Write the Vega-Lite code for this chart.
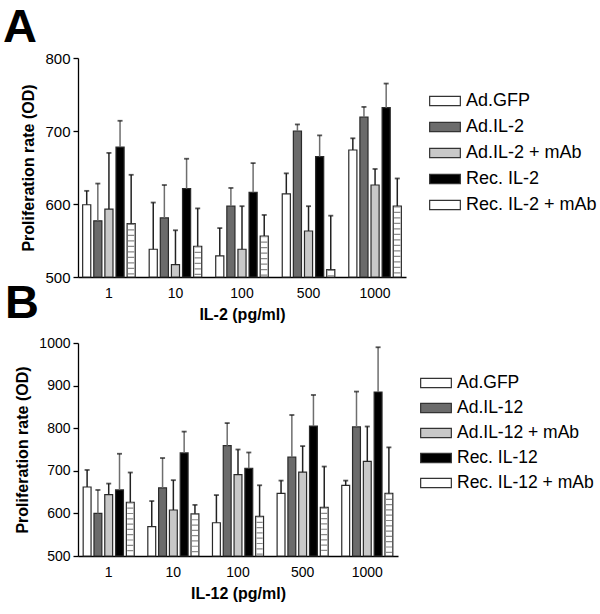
{
  "$schema": "https://vega.github.io/schema/vega-lite/v6.json",
  "padding": {"left": 3, "top": 4, "right": 0, "bottom": 5},
  "bounds": "flush",
  "spacing": 66,
  "datasets": {
    "A": [
      {"dose": "1", "series": "Ad.GFP", "value": 599, "upper": 618},
      {"dose": "1", "series": "Ad.IL-2", "value": 577, "upper": 628},
      {"dose": "1", "series": "Ad.IL-2 + mAb", "value": 593, "upper": 670},
      {"dose": "1", "series": "Rec. IL-2", "value": 678, "upper": 714},
      {"dose": "1", "series": "Rec. IL-2 + mAb", "value": 573, "upper": 640},
      {"dose": "10", "series": "Ad.GFP", "value": 538, "upper": 602},
      {"dose": "10", "series": "Ad.IL-2", "value": 581, "upper": 626},
      {"dose": "10", "series": "Ad.IL-2 + mAb", "value": 517, "upper": 564},
      {"dose": "10", "series": "Rec. IL-2", "value": 621, "upper": 662},
      {"dose": "10", "series": "Rec. IL-2 + mAb", "value": 542, "upper": 594},
      {"dose": "100", "series": "Ad.GFP", "value": 529, "upper": 567},
      {"dose": "100", "series": "Ad.IL-2", "value": 597, "upper": 622},
      {"dose": "100", "series": "Ad.IL-2 + mAb", "value": 538, "upper": 597},
      {"dose": "100", "series": "Rec. IL-2", "value": 616, "upper": 656},
      {"dose": "100", "series": "Rec. IL-2 + mAb", "value": 556, "upper": 585},
      {"dose": "500", "series": "Ad.GFP", "value": 614, "upper": 642},
      {"dose": "500", "series": "Ad.IL-2", "value": 700, "upper": 709},
      {"dose": "500", "series": "Ad.IL-2 + mAb", "value": 563, "upper": 597},
      {"dose": "500", "series": "Rec. IL-2", "value": 665, "upper": 694},
      {"dose": "500", "series": "Rec. IL-2 + mAb", "value": 510, "upper": 584},
      {"dose": "1000", "series": "Ad.GFP", "value": 674, "upper": 690},
      {"dose": "1000", "series": "Ad.IL-2", "value": 719, "upper": 733},
      {"dose": "1000", "series": "Ad.IL-2 + mAb", "value": 626, "upper": 648},
      {"dose": "1000", "series": "Rec. IL-2", "value": 732, "upper": 765},
      {"dose": "1000", "series": "Rec. IL-2 + mAb", "value": 597, "upper": 635}
    ],
    "B": [
      {"dose": "1", "series": "Ad.GFP", "value": 662, "upper": 702},
      {"dose": "1", "series": "Ad.IL-12", "value": 600, "upper": 655},
      {"dose": "1", "series": "Ad.IL-12 + mAb", "value": 644, "upper": 670},
      {"dose": "1", "series": "Rec. IL-12", "value": 655, "upper": 740},
      {"dose": "1", "series": "Rec. IL-12 + mAb", "value": 626, "upper": 696},
      {"dose": "10", "series": "Ad.GFP", "value": 569, "upper": 629},
      {"dose": "10", "series": "Ad.IL-12", "value": 660, "upper": 730},
      {"dose": "10", "series": "Ad.IL-12 + mAb", "value": 608, "upper": 678},
      {"dose": "10", "series": "Rec. IL-12", "value": 742, "upper": 792},
      {"dose": "10", "series": "Rec. IL-12 + mAb", "value": 599, "upper": 620},
      {"dose": "100", "series": "Ad.GFP", "value": 578, "upper": 643},
      {"dose": "100", "series": "Ad.IL-12", "value": 759, "upper": 812},
      {"dose": "100", "series": "Ad.IL-12 + mAb", "value": 691, "upper": 750},
      {"dose": "100", "series": "Rec. IL-12", "value": 706, "upper": 743},
      {"dose": "100", "series": "Rec. IL-12 + mAb", "value": 593, "upper": 666},
      {"dose": "500", "series": "Ad.GFP", "value": 647, "upper": 677},
      {"dose": "500", "series": "Ad.IL-12", "value": 732, "upper": 831},
      {"dose": "500", "series": "Ad.IL-12 + mAb", "value": 697, "upper": 758},
      {"dose": "500", "series": "Rec. IL-12", "value": 805, "upper": 878},
      {"dose": "500", "series": "Rec. IL-12 + mAb", "value": 614, "upper": 710},
      {"dose": "1000", "series": "Ad.GFP", "value": 666, "upper": 677},
      {"dose": "1000", "series": "Ad.IL-12", "value": 803, "upper": 886},
      {"dose": "1000", "series": "Ad.IL-12 + mAb", "value": 722, "upper": 804},
      {"dose": "1000", "series": "Rec. IL-12", "value": 885, "upper": 990},
      {"dose": "1000", "series": "Rec. IL-12 + mAb", "value": 647, "upper": 755}
    ]
  },
  "vconcat": [
    {
      "width": 328,
      "height": 219,
      "title": {"text": "A", "fontSize": 47, "font": "Liberation Sans", "fontWeight": "bold", "anchor": "start", "frame": "group", "dx": -75, "offset": -38, "baseline": "alphabetic", "color": "#000"},
      "data": {"name": "A"},
      "layer": [
        {
          "mark": {"type": "bar", "strokeWidth": 1.2, "stroke": "#2a2a2a"},
          "encoding": {
            "x": {"field": "dose", "type": "nominal", "scale": {"domain": ["1", "10", "100", "500", "1000"], "paddingInner": 0.21, "paddingOuter": 0.07}, "axis": {"labelAngle": 0}, "title": "IL-2 (pg/ml)"},
            "xOffset": {"field": "series", "type": "nominal", "scale": {"domain": ["Ad.GFP", "Ad.IL-2", "Ad.IL-2 + mAb", "Rec. IL-2", "Rec. IL-2 + mAb"], "paddingInner": 0.27, "paddingOuter": 0}},
            "y": {"field": "value", "type": "quantitative", "scale": {"domain": [500, 800], "zero": false, "nice": false}, "axis": {"values": [500, 600, 700, 800], "labelFontSize": 15, "format": "d"}, "title": "Proliferation rate (OD)"},
            "y2": {"datum": 500},
            "fill": {"field": "series", "type": "nominal", "scale": {"domain": ["Ad.GFP", "Ad.IL-2", "Ad.IL-2 + mAb", "Rec. IL-2", "Rec. IL-2 + mAb"], "range": ["#ffffff", "#6b6b6b", "#c8c8c8", "#000000", "#ffffff"]},
              "legend": {"orient": "none", "legendX": 357, "legendY": 33, "direction": "vertical", "title": null, "labelFontSize": 18, "labelFont": "Liberation Sans", "labelColor": "#000", "symbolType": "M-1.65,-0.5h3.3v1h-3.3z", "symbolSize": 346, "rowPadding": 7, "labelOffset": 11, "symbolStrokeColor": "#333333", "symbolStrokeWidth": 1.2, "symbolOpacity": 1}}
          }
        },
        {
          "transform": [{"filter": "datum.series === 'Rec. IL-2 + mAb'"}],
          "mark": {"type": "rule", "strokeWidth": 6.4, "strokeDash": [1.2, 4.3], "color": "#8a8a8a"},
          "encoding": {
            "x": {"field": "dose", "type": "nominal", "scale": {"domain": ["1", "10", "100", "500", "1000"]}},
            "xOffset": {"field": "series", "type": "nominal", "scale": {"domain": ["Ad.GFP", "Ad.IL-2", "Ad.IL-2 + mAb", "Rec. IL-2", "Rec. IL-2 + mAb"]}},
            "y": {"field": "value", "type": "quantitative"},
            "y2": {"datum": 500}
          }
        },
        {
          "mark": {"type": "rule", "strokeWidth": 1.5},
          "encoding": {
            "x": {"field": "dose", "type": "nominal", "scale": {"domain": ["1", "10", "100", "500", "1000"]}},
            "xOffset": {"field": "series", "type": "nominal", "scale": {"domain": ["Ad.GFP", "Ad.IL-2", "Ad.IL-2 + mAb", "Rec. IL-2", "Rec. IL-2 + mAb"]}},
            "y": {"field": "value", "type": "quantitative"},
            "y2": {"field": "upper"},
            "stroke": {"condition": {"test": "datum.series === 'Ad.IL-2' || datum.series === 'Rec. IL-2'", "value": "#6e6e6e"}, "value": "#222222"}
          }
        },
        {
          "mark": {"type": "tick", "thickness": 1.8, "size": 5, "color": "#111111"},
          "encoding": {
            "x": {"field": "dose", "type": "nominal", "scale": {"domain": ["1", "10", "100", "500", "1000"]}},
            "xOffset": {"field": "series", "type": "nominal", "scale": {"domain": ["Ad.GFP", "Ad.IL-2", "Ad.IL-2 + mAb", "Rec. IL-2", "Rec. IL-2 + mAb"]}},
            "y": {"field": "upper", "type": "quantitative"}
          }
        }
      ]
    },
    {
      "width": 320,
      "height": 213,
      "title": {"text": "B", "fontSize": 47, "font": "Liberation Sans", "fontWeight": "bold", "anchor": "start", "frame": "group", "dx": -73, "offset": -29, "baseline": "alphabetic", "color": "#000"},
      "data": {"name": "B"},
      "layer": [
        {
          "mark": {"type": "bar", "strokeWidth": 1.2, "stroke": "#2a2a2a"},
          "encoding": {
            "x": {"field": "dose", "type": "nominal", "scale": {"domain": ["1", "10", "100", "500", "1000"], "paddingInner": 0.21, "paddingOuter": 0.08}, "axis": {"labelAngle": 0}, "title": "IL-12 (pg/ml)"},
            "xOffset": {"field": "series", "type": "nominal", "scale": {"domain": ["Ad.GFP", "Ad.IL-12", "Ad.IL-12 + mAb", "Rec. IL-12", "Rec. IL-12 + mAb"], "paddingInner": 0.27, "paddingOuter": 0}},
            "y": {"field": "value", "type": "quantitative", "scale": {"domain": [500, 1000], "zero": false, "nice": false}, "axis": {"values": [500, 600, 700, 800, 900, 1000], "labelFontSize": 14, "format": "d"}, "title": "Proliferation rate (OD)"},
            "y2": {"datum": 500},
            "fill": {"field": "series", "type": "nominal", "scale": {"domain": ["Ad.GFP", "Ad.IL-12", "Ad.IL-12 + mAb", "Rec. IL-12", "Rec. IL-12 + mAb"], "range": ["#ffffff", "#6b6b6b", "#c8c8c8", "#000000", "#ffffff"]},
              "legend": {"orient": "none", "legendX": 348, "legendY": 30, "direction": "vertical", "title": null, "labelFontSize": 17.5, "labelFont": "Liberation Sans", "labelColor": "#000", "symbolType": "M-1.65,-0.5h3.3v1h-3.3z", "symbolSize": 346, "rowPadding": 6, "labelOffset": 11, "symbolStrokeColor": "#333333", "symbolStrokeWidth": 1.2, "symbolOpacity": 1}}
          }
        },
        {
          "transform": [{"filter": "datum.series === 'Rec. IL-12 + mAb'"}],
          "mark": {"type": "rule", "strokeWidth": 6.2, "strokeDash": [1.2, 4.1], "color": "#8a8a8a"},
          "encoding": {
            "x": {"field": "dose", "type": "nominal", "scale": {"domain": ["1", "10", "100", "500", "1000"]}},
            "xOffset": {"field": "series", "type": "nominal", "scale": {"domain": ["Ad.GFP", "Ad.IL-12", "Ad.IL-12 + mAb", "Rec. IL-12", "Rec. IL-12 + mAb"]}},
            "y": {"field": "value", "type": "quantitative"},
            "y2": {"datum": 500}
          }
        },
        {
          "mark": {"type": "rule", "strokeWidth": 1.5},
          "encoding": {
            "x": {"field": "dose", "type": "nominal", "scale": {"domain": ["1", "10", "100", "500", "1000"]}},
            "xOffset": {"field": "series", "type": "nominal", "scale": {"domain": ["Ad.GFP", "Ad.IL-12", "Ad.IL-12 + mAb", "Rec. IL-12", "Rec. IL-12 + mAb"]}},
            "y": {"field": "value", "type": "quantitative"},
            "y2": {"field": "upper"},
            "stroke": {"condition": {"test": "datum.series === 'Ad.IL-12' || datum.series === 'Rec. IL-12'", "value": "#6e6e6e"}, "value": "#222222"}
          }
        },
        {
          "mark": {"type": "tick", "thickness": 1.8, "size": 5, "color": "#111111"},
          "encoding": {
            "x": {"field": "dose", "type": "nominal", "scale": {"domain": ["1", "10", "100", "500", "1000"]}},
            "xOffset": {"field": "series", "type": "nominal", "scale": {"domain": ["Ad.GFP", "Ad.IL-12", "Ad.IL-12 + mAb", "Rec. IL-12", "Rec. IL-12 + mAb"]}},
            "y": {"field": "upper", "type": "quantitative"}
          }
        }
      ]
    }
  ],
  "resolve": {
    "scale": {"x": "independent", "y": "independent", "xOffset": "independent", "fill": "independent"},
    "legend": {"fill": "independent"}
  },
  "config": {
    "view": {"stroke": null},
    "font": "Liberation Sans",
    "axis": {"labelFont": "Liberation Sans", "titleFont": "Liberation Sans", "domainColor": "#000000", "tickColor": "#000000", "labelColor": "#000000", "titleColor": "#000000", "grid": false, "domainWidth": 1.3, "tickWidth": 1.3},
    "axisX": {"ticks": false, "labelPadding": 9, "labelFontSize": 14, "titleFontSize": 16, "titleFontWeight": "bold", "titlePadding": 6},
    "axisY": {"tickSize": 5, "labelPadding": 3, "titleFontSize": 16, "titleFontWeight": "bold", "titlePadding": 8}
  }
}
